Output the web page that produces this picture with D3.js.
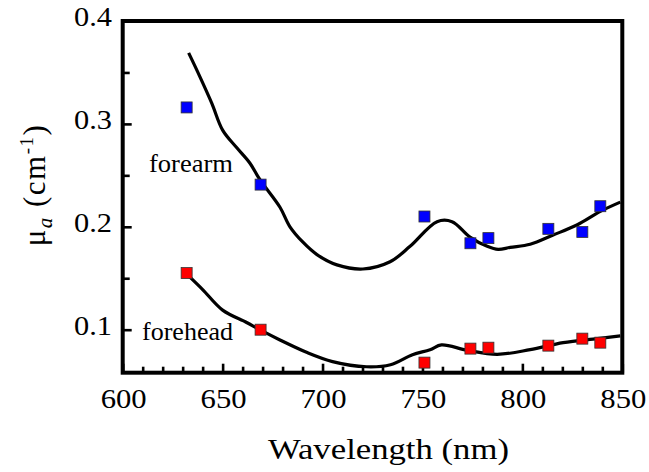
<!DOCTYPE html>
<html>
<head>
<meta charset="utf-8">
<script src="https://cdn.jsdelivr.net/npm/d3@7"></script>
<style>
  body { margin: 0; background: #fff; }
</style>
</head>
<body>
<div id="chart"></div>
<script>
var width = 649;
var height = 472;

// measured points (same wavelengths for both sites)
var wavelengths = [632, 669, 751, 774, 783, 813, 830, 839];
var forearmMeasured = [0.316, 0.241, 0.210, 0.184, 0.189, 0.198, 0.195, 0.220];
var foreheadMeasured = [0.155, 0.100, 0.068, 0.0816, 0.0825, 0.0845, 0.0913, 0.0874];

// fitted curves
var forearmFitNm = [633, 638.6, 644.6, 650, 657, 663.6, 668.6, 678.7, 683.7, 690.2, 697.2, 707.2, 720.2, 733.8, 743.8, 757.3, 764.8, 773.8, 782.4, 787.9, 793.9, 803.9, 815.4, 827.5, 839, 849];
var forearmFit = [0.369, 0.346, 0.320, 0.294, 0.277, 0.262, 0.246, 0.219, 0.200, 0.185, 0.173, 0.163, 0.159, 0.166, 0.181, 0.205, 0.205, 0.190, 0.181, 0.178, 0.180, 0.183, 0.192, 0.202, 0.215, 0.224];
var foreheadFitNm = [632.6, 640, 650, 662, 668.6, 678.7, 692, 705, 722, 734, 745, 753.8, 759.5, 772.3, 787.4, 803.9, 820.4, 837.5, 849];
var foreheadFit = [0.153, 0.139, 0.119, 0.107, 0.100, 0.090, 0.078, 0.069, 0.064, 0.066, 0.0757, 0.0805, 0.0852, 0.0800, 0.0760, 0.0806, 0.0874, 0.0913, 0.094];

var xTicks = [600, 650, 700, 750, 800, 850];
var yTicks = [0.1, 0.2, 0.3, 0.4];

var plotL = 122.7, plotR = 622.3, plotT = 21, plotB = 372.7;
var serif = "'Liberation Serif', 'Times New Roman', serif";

var svg = d3
  .select("#chart")
  .append("svg")
  .attr("width", width)
  .attr("height", height);

var x = d3.scaleLinear().domain([600, 850]).range([plotL, plotR]);
var y = d3.scaleLinear().domain([0.0582, 0.4]).range([plotB, plotT]);

// axes with inward ticks
var xMinor = d3.range(600, 851, 10).filter(function(d) { return d % 50 !== 0; });
var yMinor = [0.15, 0.25, 0.35];

var xAxis = svg.append("g").attr("transform", "translate(0," + plotB + ")");
xAxis.append("g").call(d3.axisBottom(x).tickValues(xTicks).tickSize(-9).tickFormat(""));
xAxis.append("g").call(d3.axisBottom(x).tickValues(xMinor).tickSize(-6).tickFormat(""));
var yAxis = svg.append("g").attr("transform", "translate(" + plotL + ",0)");
yAxis.append("g").call(d3.axisLeft(y).tickValues(yTicks.slice(0, 3)).tickSize(-9).tickFormat(""));
yAxis.append("g").call(d3.axisLeft(y).tickValues(yMinor).tickSize(-7).tickFormat(""));
svg.selectAll(".domain").remove();
svg.selectAll(".tick line").attr("stroke", "#000").attr("stroke-width", 2.6);

// text stretched a bit wider, like the original figure
function label(sel, size, len) {
  return sel.style("font-family", serif)
    .attr("font-size", size)
    .attr("textLength", len)
    .attr("lengthAdjust", "spacingAndGlyphs");
}

svg.selectAll(".xlab")
  .data(xTicks)
  .enter()
  .append("text")
  .attr("x", function(d) { return x(d) + 1; })
  .attr("y", 408)
  .attr("text-anchor", "middle")
  .call(label, 27, 46)
  .text(function(d) { return d; });

svg.selectAll(".ylab")
  .data(yTicks)
  .enter()
  .append("text")
  .attr("x", 112)
  .attr("y", function(d) { return y(d) + 5; })
  .attr("text-anchor", "end")
  .call(label, 27, 38)
  .text(function(d) { return d.toFixed(1); });

// frame
svg.append("rect")
  .attr("x", plotL).attr("y", plotT)
  .attr("width", plotR - plotL).attr("height", plotB - plotT)
  .attr("fill", "none").attr("stroke", "#000").attr("stroke-width", 4);

var line = d3.line()
  .x(function(d) { return x(d[0]); })
  .y(function(d) { return y(d[1]); })
  .curve(d3.curveCatmullRom);

[[forearmFitNm, forearmFit], [foreheadFitNm, foreheadFit]].forEach(function(s) {
  svg.append("path")
    .datum(d3.zip(s[0], s[1]))
    .attr("d", line)
    .attr("fill", "none")
    .attr("stroke", "#000")
    .attr("stroke-width", 3.2);
});

function drawSquares(vals, color) {
  svg.append("g")
    .selectAll("rect")
    .data(d3.zip(wavelengths, vals))
    .enter()
    .append("rect")
    .attr("x", function(d) { return x(d[0]) - 5.5; })
    .attr("y", function(d) { return y(d[1]) - 5.5; })
    .attr("width", 11)
    .attr("height", 11)
    .attr("fill", color)
    .attr("stroke", "#333")
    .attr("stroke-width", 0.8);
}
drawSquares(forearmMeasured, "#0000ff");
drawSquares(foreheadMeasured, "#ff0000");

svg.append("text").attr("x", 149).attr("y", 172).call(label, 25, 84).text("forearm");
svg.append("text").attr("x", 142).attr("y", 340).call(label, 25, 91).text("forehead");

svg.append("text")
  .attr("x", 268).attr("y", 459)
  .call(label, 30, 241)
  .text("Wavelength (nm)");

var yl = svg.append("text")
  .attr("transform", "translate(45,185) rotate(-90)")
  .attr("text-anchor", "middle")
  .style("font-family", serif)
  .attr("font-size", 31)
  .attr("letter-spacing", 1.5);
yl.append("tspan").text("\u03bc");
yl.append("tspan").attr("font-size", 21).attr("font-style", "italic").attr("dy", 7).text("a");
yl.append("tspan").attr("dy", -7).text(" (cm");
yl.append("tspan").attr("font-size", 19).attr("dy", -12).text("-1");
yl.append("tspan").attr("dy", 12).text(")");
</script>
</body>
</html>
